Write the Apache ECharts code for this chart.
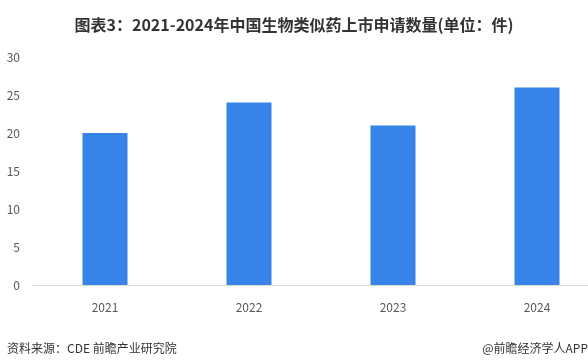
<!DOCTYPE html>
<html><head><meta charset="utf-8">
<script src="https://cdn.jsdelivr.net/npm/echarts@6/dist/echarts.min.js"></script>
<style>html,body{margin:0;padding:0;background:#fff}#c{width:588px;height:360px}</style>
</head><body><div id="c"></div>
<script>
var categories = ['2021', '2022', '2023', '2024'];
var values = [20, 24, 21, 26];
var yTicks = [0, 5, 10, 15, 20, 25, 30];
var chart = echarts.init(document.getElementById('c'));
chart.setOption({
  animation: false,
  title: {
    text: '图表3：2021-2024年中国生物类似药上市申请数量(单位：件)',
    left: 'center', top: 12,
    textStyle: {fontSize: 16, fontWeight: 'bold', color: '#333', fontFamily: 'Noto Sans CJK SC'}
  },
  graphic: [
    {type: 'text', left: 7, top: 342, style: {text: '资料来源：CDE 前瞻产业研究院', fontSize: 12, fill: '#333', fontFamily: 'Noto Sans CJK SC'}},
    {type: 'text', right: 0, top: 342, style: {text: '@前瞻经济学人APP', fontSize: 12, fill: '#333', fontFamily: 'Noto Sans CJK SC'}}
  ],
  grid: {left: 33, width: 576, top: 57, height: 228, containLabel: false, outerBoundsMode: 'none'},
  xAxis: {
    type: 'category', data: categories,
    axisLine: {lineStyle: {color: '#d9d9d9'}},
    axisTick: {show: false},
    axisLabel: {color: '#595959', fontSize: 12, margin: 16, fontFamily: 'Noto Sans CJK SC'}
  },
  yAxis: {
    type: 'value', min: yTicks[0], max: yTicks[yTicks.length - 1], interval: 5,
    splitLine: {show: false},
    axisLine: {show: false}, axisTick: {show: false},
    axisLabel: {color: '#595959', fontSize: 12, margin: 13, fontFamily: 'Noto Sans CJK SC'}
  },
  series: [{
    type: 'bar', data: values, barWidth: 45,
    itemStyle: {color: '#3684E7'}
  }]
});
</script></body></html>
